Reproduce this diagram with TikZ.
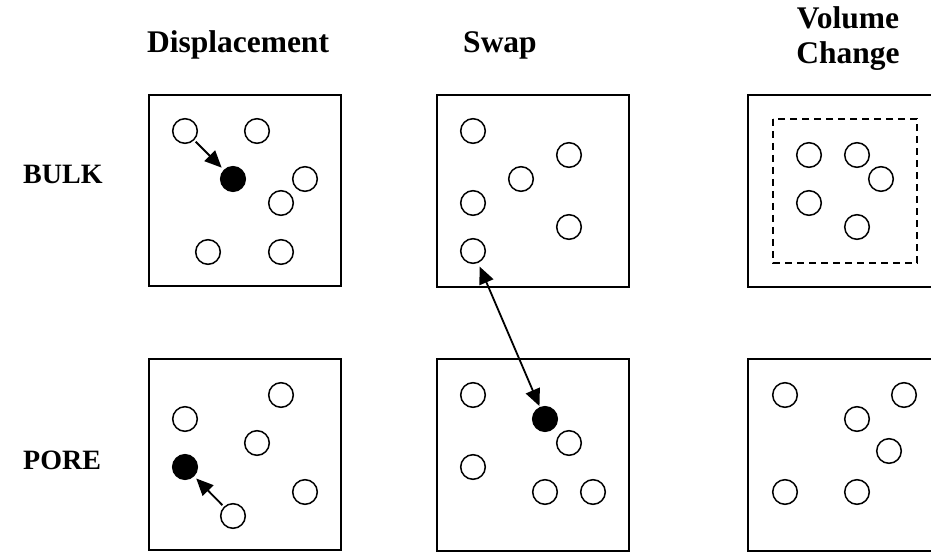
\documentclass[tikz,border=0pt]{standalone}
\usepackage{fontspec}
\setmainfont{Liberation Serif}
\usetikzlibrary{arrows.meta}
\begin{document}
\begin{tikzpicture}[x=1pt,y=-1pt,
  cell/.style={line width=1.8pt},
  particle/.style={circle,draw,line width=1.5pt,minimum size=24.6pt,inner sep=0pt},
  moved/.style={particle,fill=black},
  tip/.tip={Triangle[length=17pt,width=15pt]},
  movearrow/.style={line width=1.8pt,-tip},
  swaparrow/.style={line width=1.8pt,tip-tip},
  heading/.style={font=\bfseries\fontsize{31.5}{36}\selectfont,inner sep=0pt},
  rowlabel/.style={font=\bfseries\fontsize{28}{32}\selectfont,inner sep=0pt,anchor=base west}]
\useasboundingbox (0,0) rectangle (931,553);
\clip (0,0) rectangle (931,553);

% column headings
\node[heading,anchor=base] (hdisp) at (238,53) {Displacement};
\node[heading,anchor=base] (hswap) at (500,53) {Swap};
\node[heading,anchor=base] (hvol1) at (848,29) {Volume};
\node[heading,anchor=base] (hvol2) at (848,64) {Change};

% row labels
\node[rowlabel] (lbulk) at (23,184) {BULK};
\node[rowlabel] (lpore) at (23,469) {PORE};

% simulation cells
\draw[cell] (149,95) rectangle (341,286);
\draw[cell] (437,95) rectangle (629,287);
\draw[cell] (748,95) rectangle (940,287);
\draw[cell] (149,359) rectangle (341,550);
\draw[cell] (437,359) rectangle (629,551);
\draw[cell] (748,359) rectangle (940,551);

% reduced volume
\draw[line width=1.5pt,dash pattern=on 7pt off 5pt] (773,119) rectangle (917,263);

% bulk, displacement
\node[particle] (bd1) at (185,131) {};
\node[particle] (bd2) at (257,131) {};
\node[moved]    (bd3) at (233,179) {};
\node[particle] (bd4) at (305,179) {};
\node[particle] (bd5) at (281,203) {};
\node[particle] (bd6) at (208,252) {};
\node[particle] (bd7) at (281,252) {};
\draw[movearrow,shorten <=2pt,shorten >=3pt] (bd1) -- (bd3);

% bulk, swap
\node[particle] (bs1) at (473,131) {};
\node[particle] (bs2) at (569,155) {};
\node[particle] (bs3) at (521,179) {};
\node[particle] (bs4) at (473,203) {};
\node[particle] (bs5) at (569,227) {};
\node[particle] (bs6) at (473,251) {};

% bulk, volume change
\node[particle] (bv1) at (809,155) {};
\node[particle] (bv2) at (857,155) {};
\node[particle] (bv3) at (881,179) {};
\node[particle] (bv4) at (809,203) {};
\node[particle] (bv5) at (857,227) {};

% pore, displacement
\node[particle] (pd1) at (281,395) {};
\node[particle] (pd2) at (185,419) {};
\node[particle] (pd3) at (257,443) {};
\node[moved]    (pd4) at (185,467) {};
\node[particle] (pd5) at (305,492) {};
\node[particle] (pd6) at (233,516) {};
\draw[movearrow,shorten <=2pt,shorten >=3pt] (pd6) -- (pd4);

% pore, swap
\node[particle] (ps1) at (473,395) {};
\node[moved]    (ps2) at (545,419) {};
\node[particle] (ps3) at (569,443) {};
\node[particle] (ps4) at (473,467) {};
\node[particle] (ps5) at (545,492) {};
\node[particle] (ps6) at (593,492) {};

% pore, volume change
\node[particle] (pv1) at (785,395) {};
\node[particle] (pv2) at (904,395) {};
\node[particle] (pv3) at (857,419) {};
\node[particle] (pv4) at (889,451) {};
\node[particle] (pv5) at (785,492) {};
\node[particle] (pv6) at (857,492) {};

% exchange between bulk and pore
\draw[swaparrow,shorten <=4pt,shorten >=1pt] (bs6) -- (ps2);
\end{tikzpicture}
\end{document}
